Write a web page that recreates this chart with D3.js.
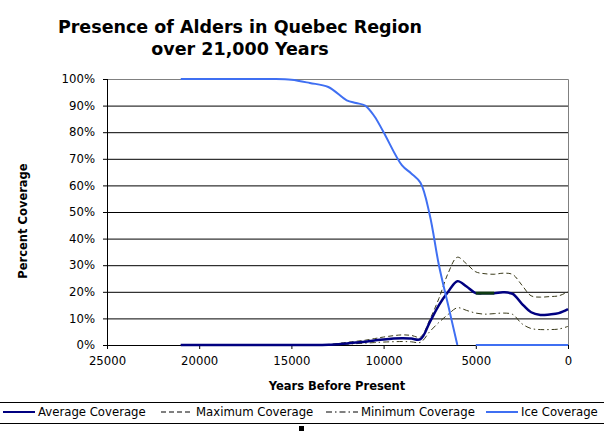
<!DOCTYPE html>
<html>
<head>
<meta charset="utf-8">
<script src="https://cdn.jsdelivr.net/npm/d3@7"></script>
<style>
  body { margin: 0; background: #fff; }
  text { font-family: "DejaVu Sans", Verdana, sans-serif; }
</style>
</head>
<body>
<div id="chart"></div>
<script>
// years before present, shared by every series
var years = [21000, 20000, 19000, 18000, 17000, 16000, 15000, 14000, 13000, 12000, 11500, 11000, 10500,
             10000, 9000, 8500, 8000, 7500, 7000, 6500, 6000, 5500, 5000, 4500, 4000, 3500, 3000,
             2500, 2000, 1500, 1000, 500, 0];

var avgCover = [0, 0, 0, 0, 0, 0, 0, 0, 0.1, 0.6, 0.9, 1.2, 1.7,
                2.1, 2.5, 2.4, 2.2, 8.5, 15, 20, 24, 22, 19.5, 19.5, 19.5, 19.8, 19.2,
                15.5, 12.3, 11.3, 11.5, 12, 13.5];

var maxCover = [0, 0, 0, 0, 0, 0, 0, 0, 0.2, 1, 1.4, 1.8, 2.4,
                3, 3.8, 3.6, 3, 9.5, 17.5, 27, 33, 30.5, 27.5, 26.8, 26.6, 27, 26.5,
                22.5, 18.5, 18, 18.2, 18.5, 20];

var minCover = [0, 0, 0, 0, 0, 0, 0, 0, 0, 0.3, 0.5, 0.7, 0.9,
                1.1, 1.3, 1.2, 1, 5, 8.5, 11.5, 14, 13, 12, 11.6, 11.8, 12, 11.5,
                8, 6.2, 5.8, 5.8, 6, 7];

var iceCover = [100, 100, 100, 100, 100, 100, 99.7, 98.5, 97, 92, 91, 90, 86,
                80, 67.5, 64.5, 61, 49, 30, 15, 0, null, 0, 0, 0, 0, 0,
                0, 0, 0, 0, 0, 0];

// short stretch of the average line drawn in dark green in the original
var highlightYears = [5000, 4500, 4000];

var xTicks = [25000, 20000, 15000, 10000, 5000, 0];
var yTicks = [0, 10, 20, 30, 40, 50, 60, 70, 80, 90, 100];

var seriesNames = ["Average Coverage", "Maximum Coverage", "Minimum Coverage", "Ice Coverage"];

var margin = {top: 79, right: 36, bottom: 86, left: 107},
    width = 604 - margin.left - margin.right,
    height = 431 - margin.top - margin.bottom;

var svg = d3.select("#chart").append("svg")
    .attr("width", 604)
    .attr("height", 431);

svg.append("rect").attr("width", 604).attr("height", 431).attr("fill", "#fff");

var g = svg.append("g")
    .attr("transform", "translate(" + margin.left + "," + margin.top + ")");

var x = d3.scaleLinear().domain([25000, 0]).range([0, width]);
var y = d3.scaleLinear().domain([0, 100]).range([height, 0]);

// title
var title = svg.append("text")
    .attr("x", 240)
    .attr("text-anchor", "middle")
    .style("font-weight", "bold")
    .style("font-size", "17.5px");
title.append("tspan").attr("x", 240).attr("y", 33).text("Presence of Alders in Quebec Region");
title.append("tspan").attr("x", 240).attr("y", 55).text("over 21,000 Years");

// gridlines
g.selectAll(".grid")
    .data(yTicks.slice(1, -1))
  .enter().append("line")
    .attr("x1", 0).attr("x2", width)
    .attr("y1", function(d) { return y(d) + 0.5; })
    .attr("y2", function(d) { return y(d) + 0.5; })
    .attr("stroke", "#000")
    .attr("stroke-width", 1);

// plot border top / right
g.append("path")
    .attr("d", "M0," + (y(100) + 0.5) + "H" + (width + 0.5) + "V" + height)
    .attr("fill", "none")
    .attr("stroke", "#808080");

// y axis
var yAxis = g.append("g")
    .call(d3.axisLeft(y).tickValues(yTicks).tickSize(4).tickPadding(8)
      .tickFormat(function(d) { return d + "%"; }));
yAxis.select(".domain").attr("d", "M0.5,0V" + height);
yAxis.selectAll("text").style("font-size", "11.7px").attr("fill", "#000");

// x axis
var xAxis = g.append("g")
    .attr("transform", "translate(0," + height + ")")
    .call(d3.axisBottom(x).tickValues(xTicks).tickSize(4).tickPadding(8).tickFormat(d3.format("d")));
xAxis.select(".domain").attr("d", "M0,0.5H" + width);
xAxis.selectAll("text").style("font-size", "11.7px").attr("fill", "#000");

// axis titles
svg.append("text")
    .attr("x", 337).attr("y", 390)
    .attr("text-anchor", "middle")
    .style("font-weight", "bold")
    .style("font-size", "11.5px")
    .text("Years Before Present");

svg.append("text")
    .attr("transform", "translate(27,221) rotate(-90)")
    .attr("text-anchor", "middle")
    .style("font-weight", "bold")
    .style("font-size", "11.5px")
    .text("Percent Coverage");

// series
function rows(values) {
  return years.map(function(yr, i) { return {yr: yr, v: values[i]}; });
}

var line = d3.line()
    .defined(function(d) { return d.v != null; })
    .x(function(d) { return x(d.yr); })
    .y(function(d) { return y(d.v); })
    .curve(d3.curveCatmullRom.alpha(0.5));

var styles = [
  {data: maxCover, color: "#3a3a1a", width: 1, dash: "5,3"},
  {data: minCover, color: "#3a3a1a", width: 1, dash: "6,3,1.5,3"},
  {data: avgCover, color: "#000080", width: 2.5, dash: null},
  {data: iceCover, color: "#3f6ff2", width: 2, dash: null}
];

styles.forEach(function(s) {
  g.append("path")
      .datum(rows(s.data))
      .attr("d", line)
      .attr("fill", "none")
      .attr("stroke", s.color)
      .attr("stroke-width", s.width)
      .attr("stroke-dasharray", s.dash);
});

g.append("path")
    .datum(rows(avgCover).filter(function(d) { return highlightYears.indexOf(d.yr) >= 0; }))
    .attr("d", line)
    .attr("fill", "none")
    .attr("stroke", "#0d3a12")
    .attr("stroke-width", 3);

// legend
svg.append("line").attr("x1", 0).attr("x2", 604).attr("y1", 402.5).attr("y2", 402.5).attr("stroke", "#000");
svg.append("line").attr("x1", 0).attr("x2", 604).attr("y1", 423.5).attr("y2", 423.5).attr("stroke", "#000");

var legendX = [3, 161, 326, 486];
var legendSample = [
  {color: "#000080", width: 2, dash: null},
  {color: "#000", width: 1, dash: "5,3"},
  {color: "#000", width: 1, dash: "6,3,1.5,3"},
  {color: "#3f6ff2", width: 2, dash: null}
];

var leg = svg.selectAll(".leg")
    .data(seriesNames)
  .enter().append("g")
    .attr("transform", function(d, i) { return "translate(" + legendX[i] + ",412)"; });

leg.append("line")
    .attr("x1", 0).attr("x2", 32)
    .attr("stroke", function(d, i) { return legendSample[i].color; })
    .attr("stroke-width", function(d, i) { return legendSample[i].width; })
    .attr("stroke-dasharray", function(d, i) { return legendSample[i].dash; });

leg.append("text")
    .attr("x", 35).attr("dy", "0.35em")
    .style("font-size", "11.7px")
    .text(function(d) { return d; });

// small black mark under the legend
svg.append("rect").attr("x", 299).attr("y", 426).attr("width", 5).attr("height", 5).attr("fill", "#000");
</script>
</body>
</html>
